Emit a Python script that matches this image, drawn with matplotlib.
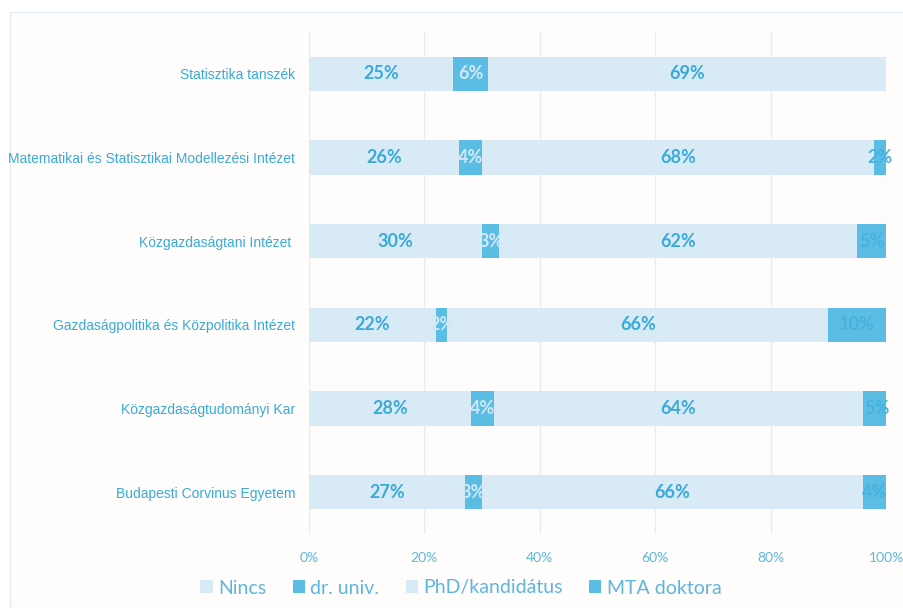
import matplotlib
matplotlib.use("Agg")
import matplotlib.pyplot as plt
from matplotlib.patches import Rectangle
import numpy as np

categories = ["Statisztika tanszék",
              "Matematikai és Statisztikai Modellezési Intézet",
              "Közgazdaságtani Intézet ",
              "Gazdaságpolitika és Közpolitika Intézet",
              "Közgazdaságtudományi Kar",
              "Budapesti Corvinus Egyetem"]
series_names = ["Nincs", "dr. univ.", "PhD/kandidátus", "MTA doktora"]
nincs = [25, 26, 30, 22, 28, 27]
dr_univ = [6, 4, 3, 2, 4, 3]
phd = [69, 68, 62, 66, 64, 66]
mta = [0, 2, 5, 10, 5, 4]
xticks = [0, 20, 40, 60, 80, 100]
xtick_labels = ["0%", "20%", "40%", "60%", "80%", "100%"]

light = "#D8EAF6"
medium = "#5BBDE4"
text_blue = "#3AAAD9"
colors = [light, medium, light, medium]
label_colors = [text_blue, "#D2E8F5", text_blue, "#48B2DE"]

fig = plt.figure(figsize=(9.04, 6.08), dpi=100)
fig.patch.set_facecolor("white")
fig.patches.append(Rectangle((10/904, 0), 1, 1 - 12/608, transform=fig.transFigure,
                             facecolor="#FEFDFC", edgecolor="#E4EEF6", lw=1.0, zorder=-10))
ax = fig.add_axes([309/904, 1 - 534/608, (886-309)/904, (534-32)/608])
ax.set_facecolor("none")

y = np.arange(len(categories))
data = [nincs, dr_univ, phd, mta]
left = np.zeros(len(categories))
for name, vals, c, lc in zip(series_names, data, colors, label_colors):
    vals = np.array(vals, dtype=float)
    ax.barh(y, vals, left=left, height=0.41, color=c, label=name, zorder=2)
    for yi, (l, v) in enumerate(zip(left, vals)):
        if v > 0:
            ax.text(l + v/2, yi, f"{int(v)}%", ha="center", va="center",
                    color=lc, fontsize=13, fontweight="bold", family="Lato", zorder=3)
    left += vals

ax.set_ylim(len(categories) - 0.5, -0.5)
ax.set_xlim(0, 100)
ax.set_yticks(y)
ax.set_yticklabels(categories, fontsize=10, color=text_blue, family=["Liberation Sans Narrow", "Liberation Sans"])
ax.set_xticks(xticks)
ax.set_xticklabels(xtick_labels, fontsize=10, color="#5FB5DE", family="Lato")
ax.tick_params(axis="both", length=0)
ax.tick_params(axis="y", pad=10)
ax.tick_params(axis="x", pad=13)
ax.grid(axis="x", color="#E3EDF6", lw=1.0, zorder=0)
for s in ax.spines.values():
    s.set_visible(False)

leg = fig.legend(loc="center left", bbox_to_anchor=(183/904, 1 - 588/608), ncol=4,
                 frameon=False, handlelength=0.62, handleheight=0.62, handletextpad=0.3,
                 columnspacing=1.34, prop={"family": "Lato", "size": 14})
for t in leg.get_texts():
    t.set_color("#5FB5DE")

fig.savefig("out.png", dpi=100, facecolor="white")
